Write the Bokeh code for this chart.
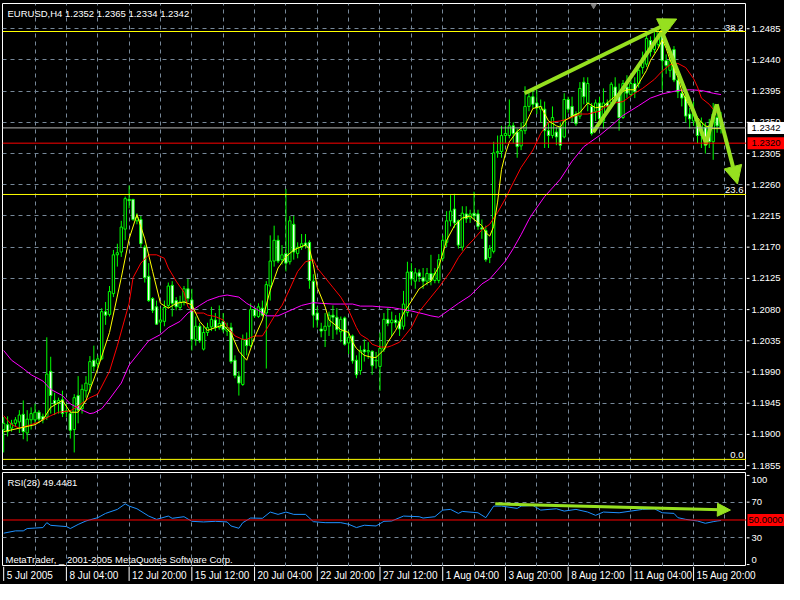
from bokeh.plotting import figure
from bokeh.layouts import column, row
from bokeh.models import (ColumnDataSource, Range1d, FixedTicker, Span, Label, Arrow, NormalHead)
from bokeh.core.properties import value
from bokeh.embed import file_html
from bokeh.resources import INLINE

# ---------------- data ----------------
symbol = "EURUSD,H4"

opens = [
    1.1907, 1.1914, 1.1909, 1.1916, 1.1918, 1.1929, 1.1902, 1.1921,
    1.1921, 1.1932, 1.1926, 1.1925, 1.1991, 1.1949, 1.1946, 1.1950,
    1.1932, 1.1930, 1.1907, 1.1956, 1.1937, 1.1963, 1.1972, 1.2007,
    1.2002, 1.2009, 1.2077, 1.2073, 1.2103, 1.2159, 1.2163, 1.2196,
    1.2239, 1.2239, 1.2208, 1.2210, 1.2170, 1.2128, 1.2096, 1.2084,
    1.2062, 1.2063, 1.2086, 1.2115, 1.2093, 1.2083, 1.2091, 1.2110,
    1.2094, 1.2037, 1.2056, 1.2023, 1.2047, 1.2055, 1.2065, 1.2054,
    1.2063, 1.2049, 1.2054, 1.2007, 1.1984, 1.1972, 1.2037, 1.2028,
    1.2080, 1.2070, 1.2082, 1.2075, 1.2114, 1.2150, 1.2180, 1.2152,
    1.2161, 1.2149, 1.2203, 1.2161, 1.2170, 1.2176, 1.2177, 1.2121,
    1.2075, 1.2052, 1.2050, 1.2056, 1.2072, 1.2069, 1.2048, 1.2068,
    1.2032, 1.2042, 1.2007, 1.1992, 1.2022, 1.2019, 1.2020, 1.2006,
    1.1998, 1.2023, 1.2066, 1.2061, 1.2065, 1.2063, 1.2056, 1.2076,
    1.2135, 1.2121, 1.2133, 1.2126, 1.2121, 1.2132, 1.2122, 1.2122,
    1.2154, 1.2177, 1.2208, 1.2225, 1.2208, 1.2170, 1.2218, 1.2212,
    1.2219, 1.2218, 1.2198, 1.2194, 1.2155, 1.2164, 1.2306, 1.2308,
    1.2331, 1.2331, 1.2345, 1.2336, 1.2316, 1.2338, 1.2373, 1.2387,
    1.2378, 1.2369, 1.2369, 1.2338, 1.2331, 1.2336, 1.2343, 1.2329,
    1.2383, 1.2373, 1.2362, 1.2359, 1.2408, 1.2378, 1.2373, 1.2366,
    1.2378, 1.2352, 1.2378, 1.2378, 1.2401, 1.2392, 1.2357, 1.2401,
    1.2390, 1.2406, 1.2406, 1.2429, 1.2434, 1.2468, 1.2455, 1.2462,
    1.2479, 1.2439, 1.2425, 1.2455, 1.2411, 1.2392, 1.2387, 1.2362,
    1.2352, 1.2352, 1.2331, 1.2343, 1.2345, 1.2322, 1.2357, 1.2352,
]
highs = [
    1.1925, 1.1926, 1.1921, 1.1925, 1.1935, 1.1949, 1.1935, 1.1939,
    1.1944, 1.1935, 1.1930, 1.2040, 1.2012, 1.1960, 1.1953, 1.1963,
    1.1944, 1.1935, 1.1958, 1.1984, 1.1972, 1.1984, 1.2013, 1.2028,
    1.2014, 1.2082, 1.2091, 1.2114, 1.2166, 1.2175, 1.2208, 1.2243,
    1.2259, 1.2239, 1.2219, 1.2215, 1.2173, 1.2147, 1.2098, 1.2093,
    1.2082, 1.2093, 1.2119, 1.2121, 1.2098, 1.2100, 1.2114, 1.2124,
    1.2110, 1.2070, 1.2061, 1.2056, 1.2061, 1.2084, 1.2075, 1.2086,
    1.2075, 1.2061, 1.2061, 1.2014, 1.1991, 1.2044, 1.2047, 1.2089,
    1.2084, 1.2089, 1.2093, 1.2121, 1.2187, 1.2201, 1.2187, 1.2173,
    1.2254, 1.2215, 1.2215, 1.2177, 1.2189, 1.2189, 1.2180, 1.2131,
    1.2084, 1.2061, 1.2075, 1.2077, 1.2086, 1.2082, 1.2070, 1.2070,
    1.2049, 1.2044, 1.2014, 1.2028, 1.2037, 1.2033, 1.2021, 1.2019,
    1.2047, 1.2075, 1.2082, 1.2077, 1.2072, 1.2075, 1.2107, 1.2149,
    1.2147, 1.2140, 1.2138, 1.2140, 1.2140, 1.2159, 1.2140, 1.2160,
    1.2187, 1.2222, 1.2245, 1.2247, 1.2210, 1.2229, 1.2229, 1.2224,
    1.2250, 1.2224, 1.2210, 1.2201, 1.2173, 1.2322, 1.2331, 1.2345,
    1.2345, 1.2383, 1.2350, 1.2341, 1.2350, 1.2402, 1.2394, 1.2399,
    1.2397, 1.2383, 1.2380, 1.2350, 1.2373, 1.2343, 1.2350, 1.2392,
    1.2387, 1.2387, 1.2366, 1.2408, 1.2415, 1.2415, 1.2378, 1.2383,
    1.2387, 1.2399, 1.2383, 1.2408, 1.2415, 1.2406, 1.2411, 1.2418,
    1.2411, 1.2415, 1.2429, 1.2452, 1.2476, 1.2474, 1.2481, 1.2483,
    1.2485, 1.2448, 1.2445, 1.2460, 1.2415, 1.2397, 1.2390, 1.2371,
    1.2380, 1.2357, 1.2357, 1.2350, 1.2355, 1.2378, 1.2366, 1.2365,
]
lows = [
    1.1874, 1.1897, 1.1904, 1.1911, 1.1902, 1.1893, 1.1890, 1.1907,
    1.1914, 1.1916, 1.1916, 1.1921, 1.1930, 1.1928, 1.1930, 1.1925,
    1.1925, 1.1894, 1.1874, 1.1916, 1.1930, 1.1953, 1.1960, 1.1991,
    1.1995, 1.2007, 1.2058, 1.2070, 1.2098, 1.2142, 1.2156, 1.2180,
    1.2226, 1.2208, 1.2203, 1.2170, 1.2119, 1.2091, 1.2075, 1.2058,
    1.2049, 1.2056, 1.2082, 1.2070, 1.2079, 1.2079, 1.2086, 1.2091,
    1.2021, 1.2028, 1.2032, 1.2021, 1.2042, 1.2049, 1.2049, 1.2051,
    1.2047, 1.2042, 1.2002, 1.1981, 1.1956, 1.1970, 1.2014, 1.2026,
    1.2068, 1.2068, 1.2070, 1.1995, 1.2093, 1.2142, 1.2147, 1.2145,
    1.2135, 1.2145, 1.2152, 1.2154, 1.2166, 1.2168, 1.2110, 1.2054,
    1.2054, 1.2040, 1.2026, 1.2042, 1.2037, 1.2044, 1.2033, 1.2028,
    1.2016, 1.2002, 1.1981, 1.1986, 1.2005, 1.2009, 1.1986, 1.1995,
    1.1963, 1.2019, 1.2056, 1.2042, 1.2054, 1.2042, 1.2051, 1.2070,
    1.2115, 1.2110, 1.2120, 1.2110, 1.2115, 1.2115, 1.2118, 1.2118,
    1.2150, 1.2170, 1.2200, 1.2198, 1.2168, 1.2165, 1.2205, 1.2205,
    1.2210, 1.2195, 1.2182, 1.2149, 1.2147, 1.2161, 1.2299, 1.2299,
    1.2320, 1.2327, 1.2320, 1.2299, 1.2310, 1.2333, 1.2366, 1.2370,
    1.2362, 1.2350, 1.2313, 1.2313, 1.2327, 1.2317, 1.2310, 1.2327,
    1.2364, 1.2350, 1.2345, 1.2355, 1.2376, 1.2366, 1.2331, 1.2352,
    1.2350, 1.2341, 1.2366, 1.2373, 1.2383, 1.2338, 1.2355, 1.2385,
    1.2387, 1.2385, 1.2400, 1.2420, 1.2430, 1.2445, 1.2450, 1.2458,
    1.2397, 1.2420, 1.2415, 1.2408, 1.2385, 1.2373, 1.2350, 1.2341,
    1.2345, 1.2320, 1.2313, 1.2305, 1.2313, 1.2296, 1.2335, 1.2334,
]
closes = [
    1.1916, 1.1904, 1.1916, 1.1921, 1.1928, 1.1904, 1.1922, 1.1930,
    1.1932, 1.1922, 1.1921, 1.1987, 1.1956, 1.1944, 1.1949, 1.1930,
    1.1934, 1.1906, 1.1953, 1.1935, 1.1965, 1.1974, 1.2005, 1.1998,
    1.2009, 1.2077, 1.2072, 1.2106, 1.2159, 1.2162, 1.2199, 1.2240,
    1.2237, 1.2210, 1.2213, 1.2175, 1.2126, 1.2093, 1.2079, 1.2059,
    1.2065, 1.2083, 1.2114, 1.2089, 1.2084, 1.2091, 1.2110, 1.2096,
    1.2037, 1.2056, 1.2035, 1.2047, 1.2054, 1.2066, 1.2054, 1.2060,
    1.2051, 1.2054, 1.2005, 1.1985, 1.1974, 1.2037, 1.2028, 1.2080,
    1.2071, 1.2084, 1.2072, 1.2116, 1.2150, 1.2180, 1.2150, 1.2159,
    1.2147, 1.2208, 1.2163, 1.2170, 1.2175, 1.2172, 1.2122, 1.2072,
    1.2065, 1.2049, 1.2056, 1.2072, 1.2069, 1.2051, 1.2066, 1.2030,
    1.2040, 1.2006, 1.1986, 1.2021, 1.2019, 1.2021, 1.1999, 1.2007,
    1.2024, 1.2066, 1.2060, 1.2065, 1.2061, 1.2052, 1.2088, 1.2134,
    1.2124, 1.2133, 1.2128, 1.2121, 1.2132, 1.2122, 1.2132, 1.2152,
    1.2180, 1.2208, 1.2222, 1.2205, 1.2173, 1.2219, 1.2211, 1.2218,
    1.2215, 1.2200, 1.2196, 1.2152, 1.2168, 1.2306, 1.2308, 1.2331,
    1.2334, 1.2345, 1.2334, 1.2315, 1.2338, 1.2373, 1.2387, 1.2376,
    1.2371, 1.2373, 1.2338, 1.2331, 1.2357, 1.2329, 1.2317, 1.2383,
    1.2369, 1.2359, 1.2348, 1.2399, 1.2387, 1.2406, 1.2334, 1.2378,
    1.2355, 1.2378, 1.2373, 1.2405, 1.2387, 1.2357, 1.2406, 1.2392,
    1.2406, 1.2394, 1.2425, 1.2443, 1.2471, 1.2452, 1.2467, 1.2481,
    1.2439, 1.2432, 1.2439, 1.2411, 1.2394, 1.2385, 1.2359, 1.2355,
    1.2366, 1.2331, 1.2350, 1.2317, 1.2322, 1.2362, 1.2345, 1.2342,
]

# moving averages as drawn on the chart (bar index, price)
ma_fast_bar = [0, 4, 8, 10, 12, 15, 17, 19, 21, 24, 27, 30, 32, 34, 36, 38, 40, 42, 44, 46,
               48, 50, 52, 54, 56, 58, 60, 62, 64, 66, 68, 70, 72, 74, 76, 77, 78, 79, 80, 82,
               83, 85, 86, 88, 89, 90, 92, 94, 95, 97, 98, 100, 101, 102, 104, 106, 108, 109,
               111, 113, 115, 117, 119, 120, 122, 123, 124, 125, 126, 127, 128, 129, 131, 133,
               135, 137, 139, 141, 142, 143, 145, 147, 149, 151, 153, 155, 157, 159, 161, 162,
               164, 165, 167, 168, 169, 170, 172, 173, 175, 177, 178, 179, 181, 183]
ma_fast_val = [1.1904, 1.1909, 1.1914, 1.1921, 1.1939, 1.1949, 1.1932, 1.1932, 1.1949, 1.1995,
               1.2047, 1.2126, 1.2182, 1.2217, 1.2182, 1.2135, 1.2089, 1.2082, 1.2089, 1.2091,
               1.2087, 1.2063, 1.2050, 1.2054, 1.2058, 1.2046, 1.2020, 1.2007, 1.2040, 1.2065,
               1.2108, 1.2140, 1.2156, 1.2166, 1.2171, 1.2173, 1.2168, 1.2145, 1.2112, 1.2084,
               1.2065, 1.2056, 1.2051, 1.2047, 1.2033, 1.2024, 1.2014, 1.2011, 1.2011, 1.2022,
               1.2033, 1.2050, 1.2061, 1.2075, 1.2092, 1.2110, 1.2118, 1.2121, 1.2142, 1.2180,
               1.2201, 1.2212, 1.2215, 1.2210, 1.2201, 1.2191, 1.2186, 1.2200, 1.2235, 1.2282,
               1.2305, 1.2322, 1.2337, 1.2346, 1.2370, 1.2373, 1.2352, 1.2345, 1.2343, 1.2352,
               1.2359, 1.2364, 1.2378, 1.2371, 1.2373, 1.2383, 1.2392, 1.2397, 1.2397, 1.2406,
               1.2425, 1.2439, 1.2457, 1.2469, 1.2457, 1.2440, 1.2415, 1.2395, 1.2373, 1.2357,
               1.2350, 1.2345, 1.2341, 1.2341]

ma_mid_bar = [0, 2, 4, 7, 9, 12, 14, 17, 19, 22, 24, 27, 29, 32, 33, 35, 37, 39, 41, 42, 44, 46,
              47, 49, 51, 52, 54, 56, 57, 59, 61, 62, 64, 66, 67, 69, 71, 73, 75, 77, 79, 80, 82,
              84, 86, 88, 90, 91, 93, 94, 96, 98, 99, 101, 102, 104, 106, 109, 111, 114, 116,
              118, 120, 122, 124, 125, 126, 128, 130, 132, 135, 137, 139, 142, 144, 147, 149,
              152, 153, 156, 158, 161, 163, 166, 168, 170, 172, 174, 176, 177, 178, 180, 181,
              182, 183]
ma_mid_val = [1.1927, 1.1914, 1.1909, 1.1914, 1.1918, 1.1927, 1.1932, 1.1934, 1.1941, 1.1953,
              1.1958, 1.1991, 1.2028, 1.2089, 1.2126, 1.2147, 1.2159, 1.2159, 1.2154, 1.2140,
              1.2121, 1.2105, 1.2084, 1.2075, 1.2075, 1.2072, 1.2070, 1.2065, 1.2056, 1.2042,
              1.2037, 1.2037, 1.2042, 1.2042, 1.2051, 1.2070, 1.2086, 1.2110, 1.2135, 1.2149,
              1.2152, 1.2140, 1.2126, 1.2112, 1.2098, 1.2079, 1.2054, 1.2044, 1.2037, 1.2030,
              1.2026, 1.2026, 1.2028, 1.2033, 1.2040, 1.2054, 1.2077, 1.2098, 1.2112, 1.2135,
              1.2155, 1.2170, 1.2182, 1.2195, 1.2203, 1.2212, 1.2220, 1.2240, 1.2263, 1.2285,
              1.2310, 1.2334, 1.2350, 1.2352, 1.2355, 1.2362, 1.2362, 1.2366, 1.2371, 1.2378,
              1.2380, 1.2392, 1.2399, 1.2412, 1.2424, 1.2433, 1.2435, 1.2429, 1.2413, 1.2401,
              1.2385, 1.2376, 1.2369, 1.2364, 1.2359]

ma_slow_bar = [0, 2, 5, 7, 10, 12, 15, 17, 20, 22, 23, 25, 27, 30, 32, 35, 37, 40, 42, 45, 47,
               50, 52, 55, 57, 60, 62, 65, 67, 70, 72, 74, 76, 79, 81, 84, 86, 89, 91, 94, 96,
               99, 101, 104, 107, 109, 111, 112, 116, 119, 122, 124, 126, 128, 130, 132, 134,
               135, 138, 142, 145, 148, 152, 155, 158, 162, 165, 168, 172, 175, 178, 181, 183]
ma_slow_val = [1.2021, 1.2007, 1.1995, 1.1986, 1.1977, 1.1965, 1.1956, 1.1944, 1.1935, 1.1930,
               1.1931, 1.1937, 1.1951, 1.1974, 1.2000, 1.2021, 1.2035, 1.2044, 1.2054, 1.2063,
               1.2075, 1.2086, 1.2093, 1.2099, 1.2101, 1.2098, 1.2089, 1.2079, 1.2071, 1.2071,
               1.2076, 1.2081, 1.2086, 1.2090, 1.2089, 1.2088, 1.2088, 1.2088, 1.2085, 1.2085,
               1.2084, 1.2083, 1.2081, 1.2078, 1.2074, 1.2071, 1.2069, 1.2073, 1.2089, 1.2100,
               1.2117, 1.2124, 1.2137, 1.2150, 1.2168, 1.2188, 1.2210, 1.2219, 1.2243, 1.2268,
               1.2294, 1.2315, 1.2331, 1.2345, 1.2360, 1.2374, 1.2385, 1.2391, 1.2396, 1.2397,
               1.2396, 1.2392, 1.2390]

# RSI(28) as drawn (bar index, value)
rsi_bar = [0, 3, 5, 6, 10, 11, 12, 16, 17, 19, 21, 24, 26, 29, 31, 32, 34, 37, 39, 42, 43, 46,
           48, 51, 54, 57, 58, 60, 61, 63, 66, 68, 70, 72, 74, 77, 79, 82, 86, 88, 90, 92, 95,
           97, 99, 102, 106, 107, 110, 112, 114, 116, 117, 121, 123, 125, 127, 131, 132, 135,
           137, 141, 143, 146, 149, 151, 153, 157, 160, 163, 166, 168, 171, 172, 174, 177, 179,
           181, 182, 183]
rsi_val = [35.2, 37.8, 37.8, 40.4, 41.5, 47.0, 44.0, 42.6, 40.4, 45.0, 48.9, 52.6, 57.4, 61.9,
           68.1, 65.6, 62.6, 54.4, 50.7, 54.4, 51.9, 53.7, 48.5, 47.8, 48.5, 47.8, 43.3, 40.7,
           47.0, 52.2, 51.9, 58.9, 56.3, 58.9, 56.3, 56.3, 48.1, 47.0, 47.0, 45.2, 41.5, 44.1,
           43.3, 48.5, 48.9, 54.4, 53.7, 52.2, 53.7, 61.1, 61.9, 57.4, 59.6, 58.1, 52.6, 65.6,
           65.6, 63.0, 65.6, 66.3, 61.1, 62.6, 60.0, 61.9, 58.9, 55.2, 58.9, 58.1, 60.0, 61.9,
           62.6, 58.1, 57.4, 52.6, 50.7, 48.9, 46.3, 48.1, 48.9, 49.4481]
rsi_period = 28
rsi_level = 50.0

# Fibonacci levels (label, price) and horizontal line
fib_labels = ["38.2", "23.6", "0.0"]
fib_prices = [1.2481, 1.2246, 1.1864]
hline_price = 1.2320

# hand-drawn trend arrows (bar index, price / RSI value)
trend_up_bar = [132.9, 171.7]
trend_up_price = [1.2392, 1.2499]
zigzag_bar = [150.4, 167.9, 179.2, 181.9, 187.2]
zigzag_price = [1.2336, 1.2481, 1.2320, 1.2376, 1.2261]
rsi_arrow_bar = [125.4, 185.4]
rsi_arrow_val = [68.1, 61.1]
shift_marker_bar = 150.5

# axes
price_ticks = [1.1855, 1.1900, 1.1945, 1.1990, 1.2035, 1.2080, 1.2125, 1.2170,
               1.2215, 1.2260, 1.2305, 1.2350, 1.2395, 1.2440, 1.2485]
time_tick_bars = [0, 16, 32, 48, 64, 80, 96, 112, 128, 144, 160, 176]
time_tick_labels = ["5 Jul 2005", "8 Jul 04:00", "12 Jul 20:00", "15 Jul 12:00",
                    "20 Jul 04:00", "22 Jul 20:00", "27 Jul 12:00", "1 Aug 04:00",
                    "3 Aug 20:00", "8 Aug 12:00", "11 Aug 04:00", "15 Aug 20:00"]
grid_bars = list(range(8, 190, 8))
rsi_ticks = [0, 30, 70, 100]
rsi_grid = [30, 70]

# ---------------- styling ----------------
FONT = "Liberation Sans"
FS = "9.5px"
BG = "black"
FG = "white"
GRID = "#778899"
CANDLE = "#00FF00"
ARROW = "#96E01F"

PLOT_W = 746      # width of chart panels (2px left border + 744px frame)
AX_W = 38         # width of the price-scale strip
MAIN_H = 472
MAIN_TOP, MAIN_BOTTOM = 3, 3
RSI_H = 94
TIME_H = 18
EDGE_PAD = 7      # RSI scale labels are kept this many pixels inside the panel edge

n = len(opens)
bars = list(range(n))
x_start, x_end = -0.3, 189.5
y_bottom, y_top = 1.18494, 1.25214
rsi_bottom, rsi_top = -2.2, 103.3

src = ColumnDataSource(dict(
    x=bars, o=opens, h=highs, l=lows, c=closes,
    top=[max(o, c) for o, c in zip(opens, closes)],
    bot=[min(o, c) for o, c in zip(opens, closes)],
    fill=["black" if c >= o else "white" for o, c in zip(opens, closes)],
))


def panel(width, height, x_range, y_range, top, bottom, left=0, outline=FG):
    f = figure(width=width, height=height, x_range=x_range, y_range=y_range,
               output_backend="svg", toolbar_location=None,
               x_axis_location=None, y_axis_location=None,
               background_fill_color=BG, border_fill_color=BG,
               min_border_left=left, min_border_right=0,
               min_border_top=top, min_border_bottom=bottom,
               outline_line_color=outline)
    f.grid.visible = False
    return f


def dashed_grid(f, xticks, yticks):
    f.xgrid.visible = True
    f.ygrid.visible = True
    f.xgrid.ticker = FixedTicker(ticks=xticks)
    f.ygrid.ticker = FixedTicker(ticks=yticks)
    for g in (f.xgrid, f.ygrid):
        g.grid_line_color = GRID
        g.grid_line_dash = "4 4"


def txt(f, x, y, labels, color=FG, align="left", baseline="middle", size=FS, **kw):
    f.text(x=x, y=y, text=labels, text_color=color, text_font=value(FONT),
           text_font_size=value(size), text_align=align, text_baseline=baseline, **kw)


# ---------------- main price panel ----------------
xr = Range1d(x_start, x_end)
main = panel(PLOT_W, MAIN_H, xr, Range1d(y_bottom, y_top), top=MAIN_TOP, bottom=MAIN_BOTTOM, left=2)
dashed_grid(main, grid_bars, price_ticks)

for pr in fib_prices:
    main.add_layout(Span(location=pr, dimension="width", line_color="#FFFF00", line_width=1))
main.add_layout(Span(location=closes[-1], dimension="width", line_color="#B4B4B4", line_width=1))
main.add_layout(Span(location=hline_price, dimension="width", line_color="#FF0000", line_width=1))

main.segment(x0="x", y0="l", x1="x", y1="h", source=src, line_color=CANDLE, line_width=1)
main.vbar(x="x", top="top", bottom="bot", width=0.6, source=src,
          fill_color="fill", line_color=CANDLE, line_width=1)

main.line(ma_slow_bar, ma_slow_val, line_color="#FF00FF", line_width=1)
main.line(ma_mid_bar, ma_mid_val, line_color="#FF0000", line_width=1)
main.line(ma_fast_bar, ma_fast_val, line_color="#FFFF00", line_width=1)

main.add_layout(Arrow(x_start=trend_up_bar[0], y_start=trend_up_price[0],
                      x_end=trend_up_bar[1], y_end=trend_up_price[1],
                      line_color=ARROW, line_width=4,
                      end=NormalHead(size=18, fill_color=ARROW, line_color=ARROW)))
main.line(zigzag_bar[:-1], zigzag_price[:-1], line_color=ARROW, line_width=4, line_join="round")
main.add_layout(Arrow(x_start=zigzag_bar[-2], y_start=zigzag_price[-2],
                      x_end=zigzag_bar[-1], y_end=zigzag_price[-1],
                      line_color=ARROW, line_width=4,
                      end=NormalHead(size=18, fill_color=ARROW, line_color=ARROW)))

main.scatter([shift_marker_bar], [y_top], marker="inverted_triangle", size=9,
             fill_color="#808080", line_color="#808080")

title = "%s  %.4f %.4f %.4f %.4f" % (symbol, opens[-1], highs[-1], lows[-1], closes[-1])
main.add_layout(Label(x=x_start, y=y_top, x_offset=5, y_offset=-4, text=title,
                      text_color=FG, text_font=FONT, text_font_size=FS,
                      text_baseline="top"))
for lab, pr in zip(fib_labels, fib_prices):
    main.add_layout(Label(x=x_end, y=pr, x_offset=-3, y_offset=1, text=lab,
                          text_color=FG, text_font=FONT, text_font_size=FS,
                          text_align="right", text_baseline="bottom"))

# ---------------- RSI panel ----------------
rsi = panel(PLOT_W, RSI_H, xr, Range1d(rsi_bottom, rsi_top), top=0, bottom=0, left=2)
dashed_grid(rsi, grid_bars, rsi_grid)
rsi.add_layout(Span(location=rsi_level, dimension="width", line_color="#FF0000", line_width=1))
rsi.line(rsi_bar, rsi_val, line_color="#1E90FF", line_width=1)
rsi.add_layout(Arrow(x_start=rsi_arrow_bar[0], y_start=rsi_arrow_val[0],
                     x_end=rsi_arrow_bar[1], y_end=rsi_arrow_val[1],
                     line_color=ARROW, line_width=3,
                     end=NormalHead(size=13, fill_color=ARROW, line_color=ARROW)))
rsi.add_layout(Label(x=x_start, y=rsi_top, x_offset=5, y_offset=-4,
                     text="RSI(%d) %.4f" % (rsi_period, rsi_val[-1]),
                     text_color=FG, text_font=FONT, text_font_size=FS, text_baseline="top"))
rsi.add_layout(Label(x=x_start, y=rsi_bottom, x_offset=3, y_offset=2,
                     text="MetaTrader, _ 2001-2005 MetaQuotes Software Corp.",
                     text_color=FG, text_font=FONT, text_font_size=FS,
                     text_baseline="bottom"))

# ---------------- one scale strip for both panels ----------------
# price scale uses the main panel's scale, RSI scale the RSI panel's scale (extra range)
strip_h = MAIN_H + RSI_H
per_px = (y_top - y_bottom) / (MAIN_H - MAIN_TOP - MAIN_BOTTOM)
strip_price_top = y_top + MAIN_TOP * per_px
price_strip = Range1d(strip_price_top - strip_h * per_px, strip_price_top)
rsi_per_px = (rsi_top - rsi_bottom) / RSI_H
rsi_strip = Range1d(rsi_bottom, rsi_bottom + strip_h * rsi_per_px)

axs = panel(AX_W, strip_h, Range1d(0, AX_W), price_strip, top=0, bottom=0, outline=None)
axs.extra_y_ranges = {"rsi": rsi_strip}

axs.segment(x0=0, y0=price_ticks, x1=3, y1=price_ticks, line_color=FG)
txt(axs, 5, price_ticks, ["%.4f" % t for t in price_ticks])
axs.rect(x=AX_W / 2 + 0.5, y=[closes[-1]], width=AX_W - 1, height=12,
         height_units="screen", fill_color="white", line_color=None)
txt(axs, 5, [closes[-1]], ["%.4f" % closes[-1]], color="black")
axs.rect(x=AX_W / 2 + 0.5, y=[hline_price], width=AX_W - 1, height=12,
         height_units="screen", fill_color="#FF0000", line_color=None)
txt(axs, 5, [hline_price], ["%.4f" % hline_price], color="black")

rsi_label_y = [min(max(t, rsi_bottom + EDGE_PAD * rsi_per_px), rsi_top - EDGE_PAD * rsi_per_px)
               for t in rsi_ticks]
axs.segment(x0=0, y0=rsi_ticks, x1=3, y1=rsi_ticks, line_color=FG, y_range_name="rsi")
txt(axs, 5, rsi_label_y, ["%d" % t for t in rsi_ticks], y_range_name="rsi")
axs.rect(x=AX_W / 2 + 0.5, y=[rsi_level], width=AX_W - 1, height=12, height_units="screen",
         fill_color="#FF0000", line_color=None, y_range_name="rsi")
txt(axs, 2, [rsi_level], ["%.4f" % rsi_level], color="black", y_range_name="rsi")

# ---------------- time scale strip ----------------
frame_w = PLOT_W - 2
time_w = PLOT_W + AX_W
time_x = Range1d(x_start, x_start + (x_end - x_start) * (time_w - 2) / frame_w)
tstrip = panel(time_w, TIME_H, time_x, Range1d(0, 1), top=0, bottom=0, left=2, outline=None)
tstrip.segment(x0=time_tick_bars, y0=1, x1=time_tick_bars, y1=0.2, line_color=FG)
txt(tstrip, time_tick_bars, 0.5, time_tick_labels, size="10px", x_offset=3)

layout = column(row(column(main, rsi), axs), tstrip, styles={"background-color": "black"})
open("out.html", "w").write(file_html(layout, INLINE))
